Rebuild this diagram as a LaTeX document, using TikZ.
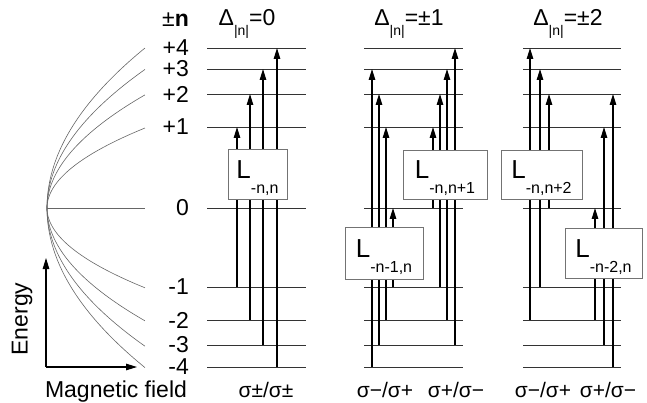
\documentclass[tikz,border=0pt]{standalone}
\usepackage{fontspec}
\setmainfont{Liberation Sans}
\usetikzlibrary{arrows.meta}
\tikzset{
  level/.style = {line width=0.8pt, black!80},
  trans/.style = {-{Triangle[length=11pt,width=6.5pt]}, line width=1.2pt},
  curve/.style = {line width=0.6pt, black!60},
  axis/.style  = {-{Triangle[length=11pt,width=6.5pt]}, line width=1.1pt},
  lbox/.style  = {draw=black!55, fill=white, line width=0.9pt, inner sep=0pt,
                  text height=19pt, text depth=10pt,
                  font=\fontsize{26}{26}\selectfont},
  big/.style   = {font=\fontsize{23}{23}\selectfont, inner sep=0pt},
  pol/.style   = {font=\fontsize{21}{21}\selectfont, inner sep=0pt}
}
\newcommand{\Lsub}[1]{L\raisebox{-15pt}{\fontsize{16}{16}\selectfont #1}}
\newcommand{\Dhead}[1]{Δ\raisebox{-10pt}{\fontsize{14}{14}\selectfont|n|}=#1}

\begin{document}
\begin{tikzpicture}[x=1pt, y=-1pt]
  \useasboundingbox (0,0) rectangle (647,403);

  %% ── Level heights ─────────────────────────────────────────────
  \foreach \n/\y in {4/48, 3/69, 2/94, 1/127, 0/208,
                     m1/287, m2/320, m3/345, m4/367}
    \coordinate (lv\n) at (0,\y);

  %% ── Fan of levels vs. field ───────────────────────────────────
  \coordinate (fan) at (47,208);
  \draw[curve] (fan) -- (145,0 |- lv0);
  \foreach \n in {1,2,3,4} {
    \draw[curve] plot[domain=0:1, samples=50, variable=\s]
      ({47+98*\s*\s},{208-80*sqrt(\n)*\s});
    \draw[curve] plot[domain=0:1, samples=50, variable=\s]
      ({47+98*\s*\s},{208+79.8*sqrt(\n)*\s});
  }

  %% ── Axes ──────────────────────────────────────────────────────
  \coordinate (org) at (46,367);
  \coordinate (etop) at (46,258);
  \coordinate (bend) at (137,367);
  \draw[axis] (org) -- (etop);
  \draw[axis] (org) -- (bend);
  \node[big, rotate=90] (energy) at (22,319) {Energy};
  \node[big, anchor=base] (field) at (116,397) {Magnetic field};

  %% ── Level labels ──────────────────────────────────────────────
  \node[big, anchor=base east] (pmn) at (189,27) {±\textbf{n}};
  \foreach \n/\t in {4/+4, 3/+3, 2/+2, 1/+1, 0/0,
                     m1/-1, m2/-2, m3/-3, m4/-4}
    \node[big, anchor=east] (t\n) at (189,0 |- lv\n) {\t};

  %% ── Level lines ───────────────────────────────────────────────
  \foreach \n in {4,3,2,1,0,m1,m2,m3,m4} {
    \draw[level] (207,0 |- lv\n) -- (306,0 |- lv\n);
    \draw[level] (364,0 |- lv\n) -- (463,0 |- lv\n);
    \draw[level] (523,0 |- lv\n) -- (621,0 |- lv\n);
  }

  %% ── Transitions ───────────────────────────────────────────────
  % Delta = 0
  \foreach \x/\a/\b in {237/m1/1, 250/m2/2, 263/m3/3, 277/m4/4}
    \draw[trans] (\x,0 |- lv\a) -- (\x,0 |- lv\b);
  % Delta = +-1
  \foreach \x/\a/\b in {372/m4/3, 379/m3/2, 386/m2/1, 393/m1/0,
                        433/0/1, 440/m1/2, 447/m2/3, 455/m3/4}
    \draw[trans] (\x,0 |- lv\a) -- (\x,0 |- lv\b);
  % Delta = +-2
  \foreach \x/\a/\b in {530/m2/4, 540/m1/3, 549/0/2,
                        595/m2/0, 604/m3/1, 613/m4/2}
    \draw[trans] (\x,0 |- lv\a) -- (\x,0 |- lv\b);

  %% ── Boxes ─────────────────────────────────────────────────────
  \node[lbox, minimum width=59pt, minimum height=50pt] (Lnn)   at (257.5,174) {\Lsub{-n,n}};
  \node[lbox, minimum width=84pt, minimum height=49pt] (Lnn1)  at (445,174.5) {\Lsub{-n,n+1}};
  \node[lbox, minimum width=78pt, minimum height=52pt] (Ln1n)  at (384,253)   {\Lsub{-n-1,n}};
  \node[lbox, minimum width=81pt, minimum height=49pt] (Lnn2)  at (541.5,174.5) {\Lsub{-n,n+2}};
  \node[lbox, minimum width=77pt, minimum height=50pt] (Ln2n)  at (603.5,253) {\Lsub{-n-2,n}};

  %% ── Headers ───────────────────────────────────────────────────
  \node[big, anchor=base] (h0) at (247,26) {\Dhead{0}};
  \node[big, anchor=base] (h1) at (409,26) {\Dhead{±1}};
  \node[big, anchor=base] (h2) at (568,26) {\Dhead{±2}};

  %% ── Polarisations ─────────────────────────────────────────────
  \node[pol, anchor=base] (p0)  at (266,397) {σ±/σ±};
  \node[pol, anchor=base] (p1a) at (385,397) {σ−/σ+};
  \node[pol, anchor=base] (p1b) at (456,397) {σ+/σ−};
  \node[pol, anchor=base] (p2a) at (543,397) {σ−/σ+};
  \node[pol, anchor=base] (p2b) at (608,397) {σ+/σ−};

\end{tikzpicture}
\end{document}
